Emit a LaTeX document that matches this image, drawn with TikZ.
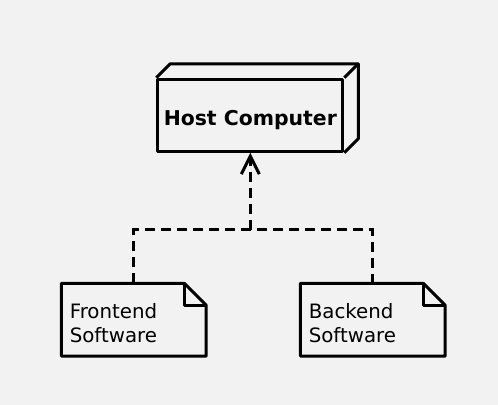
\documentclass[tikz,border=0pt]{standalone}
\usepackage{fontspec}
\setmainfont{DejaVu Sans}
\usepackage{xcolor}
\usetikzlibrary{positioning,arrows.meta,calc}

\definecolor{bggray}{HTML}{F2F2F2}

\begin{document}
\begin{tikzpicture}[x=0.5pt, y=-0.5pt,
    line/.style={line width=1.5pt, line join=round},
    dep/.style={line width=1.5pt, dash pattern=on 5pt off 3pt},
    hostbox/.style={line, draw, fill=bggray, minimum width=92.5pt, minimum height=36pt,
        inner sep=0pt, font=\fontsize{10.2}{12}\selectfont\bfseries,
        text height=10.5pt, text depth=0pt},
    notebox/.style={fill=bggray, minimum width=72pt, minimum height=36pt, inner xsep=4pt,
        text width=64pt, align=left, font=\fontsize{9.9}{12}\selectfont,
        text depth=8.3pt}]

% Background
\fill[bggray] (0,0) rectangle (498,405);
\useasboundingbox (0,0) rectangle (498,405);

% Host (3D box)
\node[hostbox] (host) at (250.3,115.3) {Host Computer};
\draw[line] (host.north west) -- ++(14,-14) -| ([shift={(14,-14)}]host.south east) -- (host.south east);
\draw[line] (host.north east) -- ++(14,-14);

% Software notes
\node[notebox] (frontend) at (133.8,319.7) {Frontend\\Software};
\node[notebox] (backend) at (372.8,319.7) {Backend\\Software};
\foreach \n in {frontend,backend} {
  \draw[line] (\n.north west) -- ([xshift=-11pt]\n.north east) -- ([yshift=-11pt]\n.north east)
    -- (\n.south east) -- (\n.south west) -- cycle;
  \draw[line] ([xshift=-11pt]\n.north east) |- ([yshift=-11pt]\n.north east);
}

% Dependencies
\coordinate (split) at (host.south |- 0,230);
\draw[dep] (frontend.north) |- (split) -| (backend.north);
\draw[dep, -{Straight Barb[length=9pt, width=9pt, line width=1.5pt]}] (split) -- (host.south);

\end{tikzpicture}
\end{document}
